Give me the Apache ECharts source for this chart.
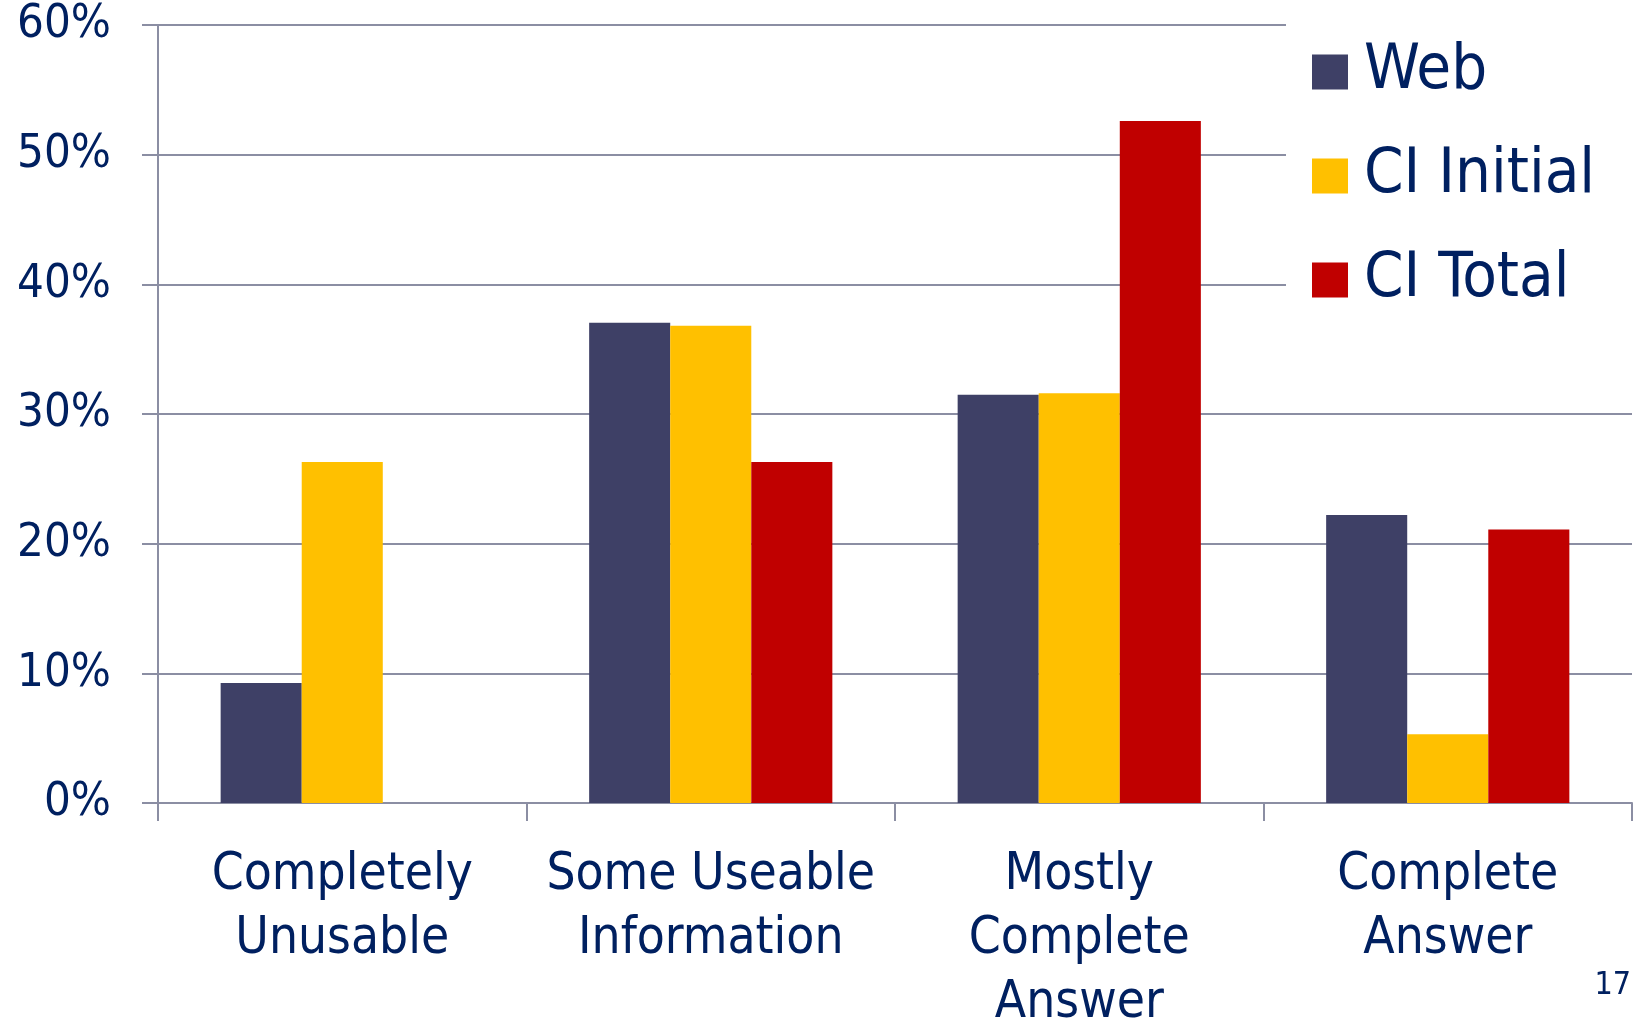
<!DOCTYPE html>
<html>
<head>
<meta charset="utf-8">
<script src="https://cdn.jsdelivr.net/npm/echarts@6/dist/echarts.min.js"></script>
<style>
html,body{margin:0;padding:0;background:#fff;}
#chart{width:1637px;height:1023px;}
</style>
</head>
<body>
<div id="chart"></div>
<script>
var categories = ['Completely\nUnusable', 'Some Useable\nInformation', 'Mostly\nComplete\nAnswer', 'Complete\nAnswer'];
var seriesNames = ['Web', 'CI Initial', 'CI Total'];
var webValues = [9.26, 37.04, 31.48, 22.22];
var ciInitialValues = [26.3, 36.8, 31.6, 5.3];
var ciTotalValues = [0, 26.3, 52.6, 21.1];
var yTicks = { min: 0, max: 60, interval: 10 };
var pageNumber = '17';

var FONT = "'DejaVu Sans Condensed', 'DejaVu Sans', sans-serif";
var TEXT = '#002060';
var GRID = '#8B8EA3';
var colors = ['#3E4066', '#FFC000', '#C00000'];

var chart = echarts.init(document.getElementById('chart'), null, { renderer: 'canvas' });
chart.setOption({
  animation: false,
  backgroundColor: '#ffffff',
  grid: { left: 158, right: 5, top: 25, bottom: 220, containLabel: false, outerBoundsMode: 'none' },
  legend: {
    orient: 'vertical',
    left: 1286,
    top: 0,
    padding: [37, 80, 24, 26],
    backgroundColor: '#ffffff',
    itemWidth: 36,
    itemHeight: 35,
    itemGap: 34,
    icon: 'rect',
    data: seriesNames,
    textStyle: { color: TEXT, fontFamily: FONT, fontSize: 63, lineHeight: 70, padding: [0, 0, 0, 11] }
  },
  xAxis: {
    type: 'category',
    data: categories,
    axisLine: { show: true, lineStyle: { color: GRID, width: 2 } },
    axisTick: { show: true, length: 18, lineStyle: { color: GRID, width: 2 } },
    axisLabel: { color: TEXT, fontFamily: FONT, fontSize: 51, lineHeight: 64, margin: 41, interval: 0 }
  },
  yAxis: {
    type: 'value',
    min: yTicks.min,
    max: yTicks.max,
    interval: yTicks.interval,
    axisLine: { show: true, lineStyle: { color: GRID, width: 2 } },
    axisTick: { show: true, length: 16, lineStyle: { color: GRID, width: 2 } },
    splitLine: { show: true, lineStyle: { color: GRID, width: 2 } },
    axisLabel: { color: TEXT, fontFamily: FONT, fontSize: 47, margin: 47, formatter: '{value}%' }
  },
  series: [
    { name: seriesNames[0], type: 'bar', data: webValues, itemStyle: { color: colors[0] }, barGap: '0%', barCategoryGap: '34%' },
    { name: seriesNames[1], type: 'bar', data: ciInitialValues, itemStyle: { color: colors[1] }, barGap: '0%', barCategoryGap: '34%' },
    { name: seriesNames[2], type: 'bar', data: ciTotalValues, itemStyle: { color: colors[2] }, barGap: '0%', barCategoryGap: '34%' }
  ],
  graphic: [
    { type: 'text', right: 6, top: 970, style: { text: pageNumber, fill: TEXT, font: '32px ' + FONT } }
  ]
});
</script>
</body>
</html>
